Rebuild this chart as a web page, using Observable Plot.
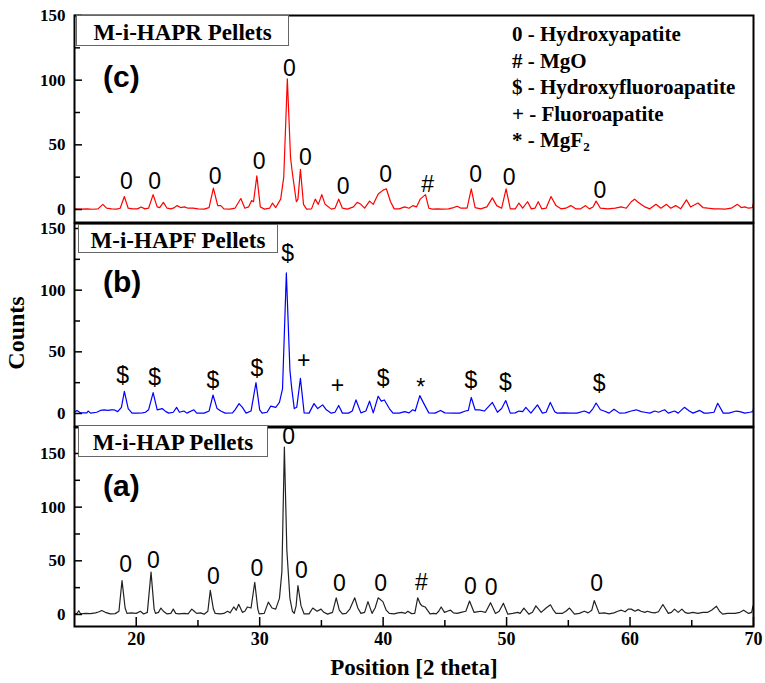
<!DOCTYPE html>
<html>
<head>
<meta charset="utf-8">
<script src="https://cdn.jsdelivr.net/npm/d3@7"></script>
<script src="https://cdn.jsdelivr.net/npm/@observablehq/plot@0.6"></script>
<style>
  body { margin: 0; background: white; }
  #wrap { position: relative; width: 765px; height: 683px; overflow: hidden; background: white; }
  #wrap svg { position: absolute; left: 0; top: 0; }
  .serif { font-family: "Liberation Serif", "Times New Roman", serif; font-weight: bold; color: #000; }
  .box { position: absolute; border: 1px solid #666; background: white; box-sizing: border-box; text-align: center; font-size: 23px; white-space: nowrap; }
  .tag { position: absolute; font-family: "Liberation Sans", Arial, sans-serif; font-weight: bold; font-size: 30px; line-height: 30px; }
  .legend { position: absolute; left: 512px; top: 21px; font-size: 21px; line-height: 26.5px; white-space: nowrap; }
  .legend sub { font-size: 13px; line-height: 0; vertical-align: -4px; }
</style>
</head>
<body>
<div id="wrap"></div>
<script>
// ---------- data ----------
const xTicks = [20, 30, 40, 50, 60, 70];
const xMinorTicks = [25, 35, 45, 55, 65];
const yTicks = [0, 50, 100, 150];
const yMinorTicks = [25, 75, 125];

const panelNames = ["M-i-HAPR Pellets", "M-i-HAPF Pellets", "M-i-HAP Pellets"];
const panelTags = ["(c)", "(b)", "(a)"];
const legendItems = ["0 - Hydroxyapatite", "# - MgO", "$ - Hydroxyfluoroapatite", "+ - Fluoroapatite", "* - MgF"];

// (c) M-i-HAPR : [2theta, counts]
const patternC = [
[15.0,0.5],[15.5,0.3],[16.0,0.5],[16.5,0.2],[16.9,0.5],[17.3,4],[17.6,1],[18.0,0.5],[18.4,0.3],[18.7,1],
[19.04,10],[19.35,1],[19.7,0.5],[20.1,0.5],[20.4,2],[20.7,0.5],[21.0,1],[21.37,11.5],[21.7,2],[21.9,1.5],
[22.2,5.5],[22.5,1],[22.8,0.5],[23.1,1.5],[23.3,3],[23.6,1.5],[23.9,2],[24.2,1],[24.6,1],[25.0,0.5],
[25.5,0.3],[25.9,1.5],[26.25,16.5],[26.6,3],[26.85,3],[27.1,0.5],[27.6,0.3],[28.0,1],[28.47,8.5],[28.8,1],
[29.1,2],[29.35,7],[29.5,6],[29.77,26],[30.05,2],[30.4,0.3],[30.8,1],[31.04,5],[31.3,1.5],[31.7,8],
[31.95,25],[32.24,101],[32.5,40],[32.65,28],[32.97,6],[33.1,8],[33.3,31],[33.55,4],[33.8,0.3],[34.2,0.5],
[34.5,8],[34.75,4],[35.03,11.5],[35.3,4],[35.8,0.3],[36.1,1],[36.4,8],[36.7,1],[37.1,0.3],[37.6,2],
[37.9,5.5],[38.2,4],[38.5,1],[38.9,6.5],[39.2,4],[39.6,12],[40.0,15],[40.26,16],[40.6,6],[40.9,0.5],
[41.3,0.5],[41.75,2],[42.1,1],[42.4,3],[42.7,2],[43.0,8],[43.43,11.5],[43.7,1],[44.0,0.3],[44.4,0.5],
[44.8,0.3],[45.3,0.5],[45.7,1.5],[46.0,2.5],[46.3,1],[46.8,1],[47.14,16],[47.45,1.5],[47.9,0.5],[48.4,2],
[48.85,9],[49.2,3],[49.6,1],[49.96,16],[50.3,0.5],[50.7,0.5],[51.0,5],[51.3,1],[51.7,6],[52.0,0.5],
[52.3,1],[52.56,6],[52.85,0.5],[53.2,1],[53.6,10],[54.0,3],[54.4,0.5],[54.8,1],[55.2,3],[55.6,0.5],
[56.0,0.5],[56.4,3],[56.7,0.5],[57.0,2],[57.25,6.5],[57.6,1],[58.2,0.5],[58.8,1],[59.28,2],[59.7,1],
[60.1,6],[60.37,8],[60.6,6],[61.2,2],[61.6,0.5],[62.1,4],[62.5,1],[62.95,4],[63.3,1],[63.7,3],
[64.1,0.5],[64.57,7.5],[64.9,2],[65.5,5],[65.9,1.5],[66.3,1],[66.8,0.5],[67.2,0.5],[67.7,0.3],[68.2,1],
[68.7,4],[69.0,1.5],[69.3,2],[69.6,1],[69.9,1.5],[70.0,5]
];

// (b) M-i-HAPF
const patternB = [
[15.0,1],[15.2,2.5],[15.5,0.5],[16.0,0.5],[16.1,2],[16.3,0.3],[16.8,1],[17.1,2.5],[17.4,3],[17.7,2.5],
[18.0,3],[18.2,3],[18.5,1.5],[18.8,5],[19.04,18],[19.35,4],[19.66,0.3],[20.1,0.3],[20.5,0.5],[20.75,1],
[21.0,3],[21.37,17],[21.7,3],[22.1,4],[22.4,1.5],[22.64,0.3],[23.0,1],[23.27,5],[23.5,1],[23.86,2],
[24.1,0.3],[24.67,3],[24.9,0.3],[25.5,0.3],[25.9,2],[26.22,15],[26.55,4],[26.85,2],[27.2,0.3],[27.8,0.5],
[28.0,3],[28.33,8],[28.6,5],[28.9,0.3],[29.3,2],[29.7,25],[30.0,3],[30.2,0.3],[30.6,1],[30.9,6],
[31.3,5],[31.6,9],[31.85,20],[32.16,114],[32.45,35],[32.6,20],[32.8,4],[33.0,5],[33.3,28.5],[33.6,0.5],
[34.0,0.3],[34.4,8],[34.7,4],[35.1,7],[35.4,3],[35.8,0.3],[36.1,1],[36.4,6.5],[36.7,0.3],[37.2,0.3],
[37.5,2],[37.8,11],[38.2,0.5],[38.6,2],[38.9,10],[39.2,0.5],[39.6,14],[39.85,10],[40.1,11],[40.5,4],
[40.8,0.3],[41.3,0.3],[41.75,1.5],[42.1,0.5],[42.4,3],[42.6,2],[42.97,14.5],[43.3,8],[43.7,0.5],[44.2,0.3],
[44.65,2.5],[45.0,0.5],[45.7,0.3],[46.2,0.3],[46.67,2],[46.9,2.5],[47.14,13],[47.45,3],[47.8,3],[48.2,2],
[48.85,9],[49.26,1],[49.6,4],[49.93,10.5],[50.3,0.3],[50.7,0.5],[51.0,2],[51.3,1.5],[51.56,5],[51.97,0.3],
[52.5,7],[52.9,0.3],[53.2,1],[53.54,9],[53.9,1.5],[54.1,0.3],[54.6,0.5],[55.2,0.3],[55.7,0.3],[56.3,2],
[56.7,0.3],[57.0,4],[57.25,8.5],[57.6,3],[57.9,2],[58.3,0.3],[58.7,3.5],[59.15,0.3],[59.6,0.5],[60.1,2],
[60.5,3],[60.9,1.5],[61.2,1],[61.6,0.3],[62.0,2],[62.3,1],[62.8,3],[63.1,0.3],[63.6,2],[63.9,0.3],
[64.4,5],[64.8,2],[65.1,0.3],[65.65,2.5],[66.0,0.3],[66.3,0.3],[66.8,1],[67.1,8.3],[67.55,0.3],[68.0,0.3],
[68.6,2],[68.9,1.5],[69.3,0.3],[69.7,1],[69.95,1.5],[70.0,4]
];

// (a) M-i-HAP
const patternA = [
[15.0,0.5],[15.2,1],[15.35,3.5],[15.5,0.5],[15.9,1],[16.3,0.8],[16.7,1.5],[17.0,2.5],[17.2,3.7],[17.5,2],
[17.9,0.5],[18.3,0.8],[18.6,3],[18.85,31.5],[19.1,6],[19.25,1],[19.6,1.5],[20.0,1],[20.34,3],[20.6,0.5],
[20.9,2],[21.2,39.5],[21.45,5],[21.56,1],[21.8,2],[22.0,6],[22.2,3],[22.5,0.5],[22.8,1],[23.0,5],
[23.2,1],[23.45,0.5],[23.9,1],[24.2,0.5],[24.5,5],[24.7,3],[24.9,1],[25.2,1.5],[25.5,0.3],[25.8,3],
[26.0,22.5],[26.25,5],[26.4,1],[26.8,0.5],[27.1,1],[27.4,3],[27.6,1.5],[27.9,7],[28.1,4],[28.3,9.5],
[28.6,2],[28.8,3],[29.0,7],[29.3,6],[29.6,30],[29.85,5],[29.96,0.5],[30.37,1],[30.7,11.5],[31.0,6],
[31.3,5],[31.6,15],[31.8,40],[32.0,156],[32.2,60],[32.45,15],[32.65,3],[32.8,1],[32.95,8],[33.1,27],
[33.35,8],[33.6,0.5],[34.0,0.5],[34.3,6],[34.65,3],[34.97,5],[35.2,2],[35.5,0.3],[35.9,2],[36.2,15.5],
[36.45,4],[36.7,0.5],[37.0,1],[37.3,5],[37.7,15.5],[37.95,6],[38.2,1],[38.5,2],[38.77,12],[39.1,1],
[39.35,6],[39.6,15.5],[39.98,12],[40.25,4],[40.5,1],[40.9,0.5],[41.2,1.5],[41.5,2],[41.8,1],[42.0,3],
[42.3,0.8],[42.56,1],[42.8,15.5],[43.0,10],[43.15,8],[43.4,7],[43.8,0.5],[44.1,1],[44.3,0.5],[44.5,3],
[44.7,7],[44.97,2],[45.2,3],[45.46,4],[45.7,1.5],[46.0,1],[46.3,2],[46.7,3],[47.0,12.5],[47.36,2],
[47.6,2.5],[47.9,3],[48.3,2],[48.7,11],[49.1,1],[49.4,3],[49.74,10.5],[50.1,0.3],[50.5,1],[50.9,2],
[51.1,1],[51.4,6],[51.8,0.3],[52.1,2],[52.37,8],[52.8,2],[53.2,6],[53.55,9],[53.8,4],[54.0,1],
[54.5,1],[54.8,3],[55.1,6],[55.5,0.3],[55.9,1],[56.3,3],[56.6,1.5],[56.9,4],[57.1,13],[57.5,1],
[57.9,1.5],[58.3,0.5],[58.7,1.5],[59.0,3],[59.3,4],[59.6,2.5],[59.85,5],[60.1,5],[60.4,3],[60.65,4.5],
[60.9,3],[61.2,2],[61.4,3],[61.7,2],[62.0,1.5],[62.3,2.5],[62.66,9.3],[63.1,1],[63.35,2],[63.6,5],
[63.9,2],[64.2,5],[64.45,2],[64.7,1],[65.1,2],[65.5,1],[65.9,2],[66.3,2],[66.6,4],[67.0,7.7],
[67.25,3],[67.5,0.3],[67.9,1],[68.5,1],[68.9,2],[69.2,4],[69.6,1],[69.85,2],[69.96,8]
];

// peak markers: [2theta, counts, symbol]
const markersC = [[19.2,21.8,"0"],[21.5,21.5,"0"],[26.4,25.6,"0"],[29.96,37,"0"],[32.4,109,"0"],[33.7,40,"0"],
  [36.76,18,"0"],[40.2,27,"0"],[43.6,19,"#"],[47.5,27,"0"],[50.2,24.5,"0"],[57.55,14.6,"0"]];
const markersB = [[18.9,30.6,"$"],[21.5,29,"$"],[26.2,27,"$"],[29.77,36,"$"],[32.26,130,"$"],[33.56,42.7,"+"],
  [36.3,22.6,"+"],[40.0,28,"$"],[43.05,21,"*"],[47.1,27,"$"],[49.9,25,"$"],[57.5,24,"$"]];
const markersA = [[19.15,46,"0"],[21.4,50.6,"0"],[26.25,35,"0"],[29.77,43,"0"],[32.35,166,"0"],[33.37,40.7,"0"],
  [36.46,28.4,"0"],[39.8,28.7,"0"],[43.1,30,"#"],[47.06,26,"0"],[48.74,24.7,"0"],[57.3,28.4,"0"]];

// ---------- drawing ----------
const W = 765, H = 683, L = 74, R = 753;
const SERIF = "'Liberation Serif', 'Times New Roman', serif";
const wrap = document.getElementById("wrap");

function panel({data, markers, color, domain, top, bottom, showX}) {
  const plotW = R - L, plotH = bottom - top;
  const axisFont = {fontFamily: SERIF, fontSize: 17, fontWeight: "bold", fill: "black"};
  const marks = [
    Plot.line(data, {x: d => d[0], y: d => d[1], stroke: color, strokeWidth: 1.2}),
    Plot.text(markers, {x: d => d[0], y: d => d[1], text: d => d[2],
      fontFamily: "'Liberation Sans', Arial, sans-serif", fontSize: 23, fontWeight: "normal", fill: "black"}),
    Plot.tickY(yTicks, {y: d => d, insetRight: plotW - 8, stroke: "black", strokeWidth: 1.5}),
    Plot.tickY(yMinorTicks, {y: d => d, insetRight: plotW - 6, stroke: "black", strokeWidth: 1.5}),
    Plot.axisY(yTicks, {tickSize: 0, tickPadding: 9, label: null, ...axisFont}),
    Plot.frame({stroke: "black", strokeWidth: 2})
  ];
  if (showX) {
    marks.push(
      Plot.tickX(xTicks, {x: d => d, insetTop: plotH - 9, stroke: "black", strokeWidth: 1.5}),
      Plot.tickX(xMinorTicks, {x: d => d, insetTop: plotH - 6, stroke: "black", strokeWidth: 1.5}),
      Plot.axisX(xTicks, {tickSize: 0, tickPadding: 6, label: null, ...axisFont, fontSize: 18})
    );
  }
  const svg = Plot.plot({
    width: W, height: H,
    marginLeft: L, marginRight: W - R, marginTop: top, marginBottom: H - bottom,
    x: {domain: [15, 70], axis: showX ? undefined : null},
    y: {domain: domain},
    style: {background: "transparent", overflow: "visible", fontFamily: SERIF, fontSize: "17px", fontWeight: "bold", color: "black"},
    marks
  });
  wrap.appendChild(svg);
}

panel({data: patternC, markers: markersC, color: "#ff0000", domain: [-10.05, 150], top: 15, bottom: 222, showX: false});
panel({data: patternB, markers: markersB, color: "#0000ff", domain: [-10.54, 154.05], top: 223, bottom: 426, showX: false});
panel({data: patternA, markers: markersA, color: "#222222", domain: [-11.2, 174.2], top: 427, bottom: 626, showX: true});

function div(cls, css, html) {
  const d = document.createElement("div");
  d.className = cls;
  d.style.cssText = css;
  d.innerHTML = html;
  wrap.appendChild(d);
  return d;
}

// panel name boxes
const boxes = [
  {left: 76, top: 15, width: 213, height: 31},
  {left: 78, top: 224, width: 200, height: 29},
  {left: 78, top: 425, width: 190, height: 32}
];
panelNames.forEach((name, i) => {
  const b = boxes[i];
  div("box serif", `left:${b.left}px;top:${b.top}px;width:${b.width}px;height:${b.height}px;line-height:${b.height + 2}px;`, name);
});

// panel tags
const tagTops = [62, 267, 471];
panelTags.forEach((t, i) => div("tag", `left:103px;top:${tagTops[i]}px;`, t));

// legend
div("legend serif", "", legendItems.map((t, i) => i === 4 ? t + "<sub>2</sub>" : t).join("<br>"));

// axis titles
div("serif", "position:absolute;left:214px;width:400px;top:653px;height:30px;line-height:30px;text-align:center;font-size:23px;", "Position [2 theta]");
div("serif", "position:absolute;left:-84px;top:318px;width:200px;height:30px;line-height:30px;text-align:center;font-size:24px;transform:rotate(-90deg);", "Counts");
</script>
</body>
</html>
